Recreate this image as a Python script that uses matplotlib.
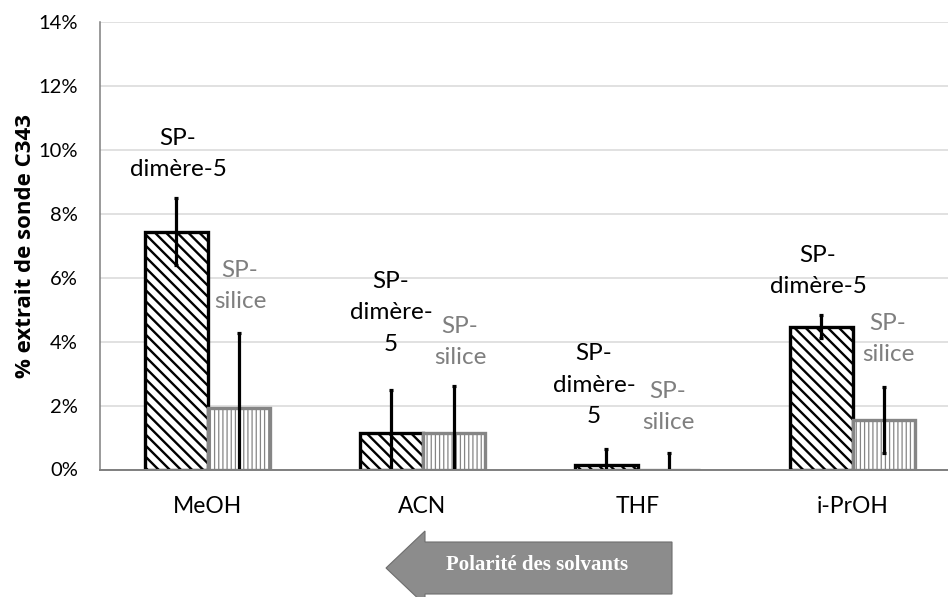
import matplotlib
matplotlib.use("Agg")
import matplotlib.pyplot as plt
from matplotlib.patches import Polygon
from matplotlib.ticker import FuncFormatter
import numpy as np

# Extraction of the C343 probe (%) per solvent
solvants = ["MeOH", "ACN", "THF", "i-PrOH"]
dimere_vals = [7.44, 1.15, 0.14, 4.47]
dimere_err = [1.05, 1.34, 0.50, 0.37]
silice_vals = [1.91, 1.15, 0.0, 1.55]
silice_err = [2.35, 1.47, 0.53, 1.04]
dimere_label = "SP-\ndimère-5"
dimere_label_wrapped = "SP-\ndimère-\n5"
silice_label = "SP-\nsilice"
yticks = [0, 2, 4, 6, 8, 10, 12, 14]

plt.rcParams["font.family"] = ["Lato", "DejaVu Sans"]

W, H = 948, 597
fig = plt.figure(figsize=(W / 100, H / 100), dpi=100)
ax = fig.add_axes([100 / W, (H - 469.5) / H, 860 / W, 447.5 / H])

x = np.arange(len(solvants))
bw = 0.293

plt.rcParams["hatch.linewidth"] = 1.7
b1 = ax.bar(x - bw / 2, dimere_vals, bw, color="white", edgecolor="black",
            linewidth=2.4, hatch="\\\\\\", zorder=3)
plt.rcParams["hatch.linewidth"] = 0.9
b2 = ax.bar(x + bw / 2, silice_vals, bw, color="white", edgecolor="#858585",
            linewidth=2.4, hatch="||||", zorder=3)
for p in b1.patches:
    if hasattr(p, "set_hatch_linewidth"):
        p.set_hatch_linewidth(1.7)
for p in b2.patches:
    if hasattr(p, "set_hatch_linewidth"):
        p.set_hatch_linewidth(0.9)

ax.errorbar(x - bw / 2, dimere_vals, yerr=dimere_err, fmt="none", ecolor="black",
            elinewidth=2.3, capsize=1.5, capthick=2.3, zorder=4)
ax.errorbar(x + bw / 2, silice_vals, yerr=silice_err, fmt="none", ecolor="black",
            elinewidth=2.3, capsize=1.5, capthick=2.3, zorder=4)

ax.set_xlim(-0.5, 3.5)
ax.set_ylim(0, 14)
ax.set_yticks(yticks)
ax.yaxis.set_major_formatter(FuncFormatter(lambda v, _: f"{v:.0f}%"))
ax.set_xticks(x)
ax.set_xticklabels(solvants, fontsize=16.5)
ax.tick_params(axis="y", length=0, pad=16, labelsize=14.5)
ax.tick_params(axis="x", length=0, pad=19)
ax.grid(axis="y", color="#d9d9d9", linewidth=1.1, zorder=0)
ax.set_axisbelow(True)
for s in ("top", "right"):
    ax.spines[s].set_visible(False)
ax.spines["left"].set_color("#7f7f7f")
ax.spines["bottom"].set_color("#7f7f7f")
ax.spines["left"].set_linewidth(1.1)
ax.spines["bottom"].set_linewidth(1.4)
ax.spines["bottom"].set_zorder(5)

ax.set_ylabel("% extrait de sonde C343", fontsize=16, fontweight="bold",
              family=["Open Sans", "DejaVu Sans"])
ax.yaxis.set_label_coords(-64 / 860, 0.5)

# series name labels above each bar group (x offset, y centre in axis units)
dimere_pos = [(-0.137, 9.87), (0.853, 4.90), (1.798, 2.64), (2.840, 6.21)]
silice_pos = [(0.151, 5.74), (1.174, 3.99), (2.142, 1.96), (3.165, 4.08)]
dimere_texts = [dimere_label, dimere_label_wrapped, dimere_label_wrapped, dimere_label]
for (px, py), t in zip(dimere_pos, dimere_texts):
    ax.text(px, py, t, ha="center", va="center", fontsize=17.5, color="black",
            linespacing=1.6, zorder=6)
for px, py in silice_pos:
    ax.text(px, py, silice_label, ha="center", va="center", fontsize=17.5,
            color="#7f7f7f", linespacing=1.6, zorder=6)

# arrow indicating increasing solvent polarity
pts = [(386, 568), (425, 531), (425, 542), (672, 542), (672, 594),
       (425, 594), (425, 605)]
arrow = Polygon([(px / W, 1 - py / H) for px, py in pts], closed=True,
                transform=fig.transFigure, facecolor="#8c8c8c",
                edgecolor="#6e6e6e", linewidth=0.8)
fig.patches.append(arrow)
fig.text(537 / W, 1 - 565 / H, "Polarité des solvants", ha="center", va="center",
         color="white", fontsize=15, fontweight="bold",
         family=["Liberation Serif", "DejaVu Serif"])

fig.savefig("out.png", dpi=100)
